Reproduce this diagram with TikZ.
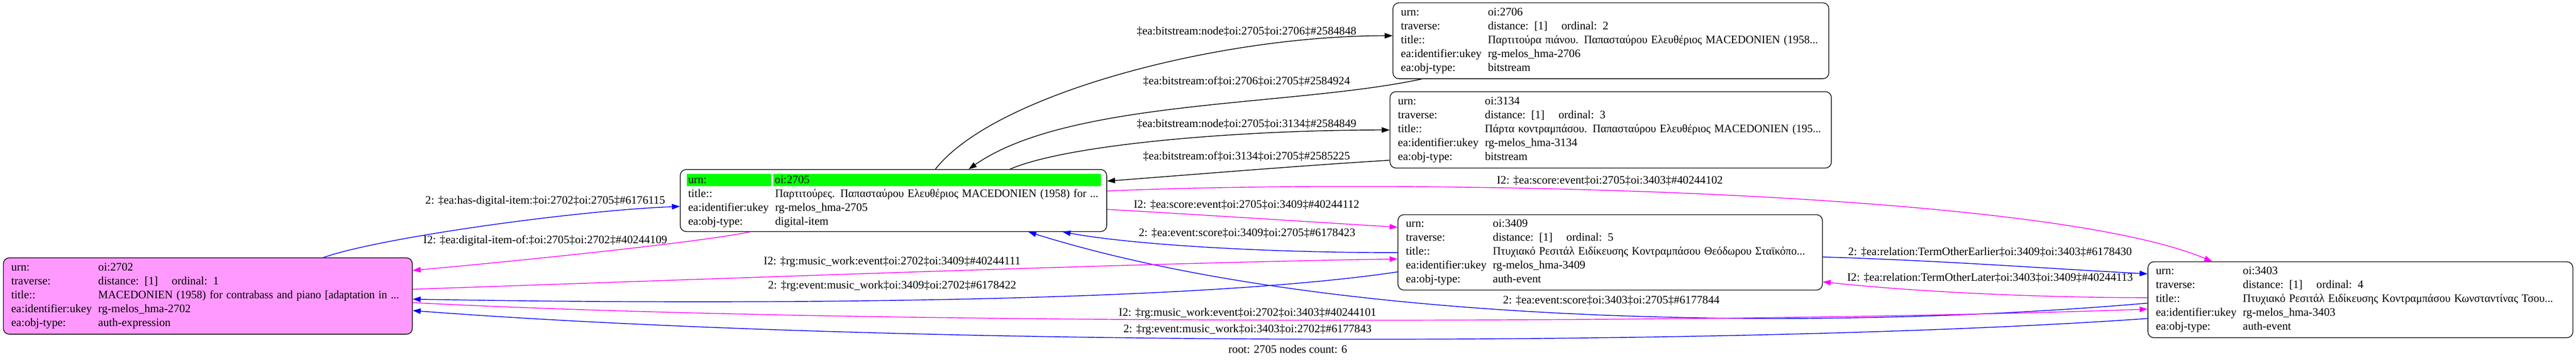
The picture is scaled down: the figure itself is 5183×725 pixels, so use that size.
\documentclass[tikz,border=0pt]{standalone}
\usepackage{fontspec}
\usepackage{graphicx}
\setmainfont{Liberation Serif}
\usetikzlibrary{arrows.meta}
\setlength{\parindent}{0pt}
\definecolor{recpink}{HTML}{FF99FF}
\definecolor{rootgreen}{HTML}{00FF00}
\definecolor{relblue}{HTML}{0000FF}
\definecolor{relpink}{HTML}{FF00FF}
\newcommand\fld[2]{\mbox{\makebox[175pt][l]{#1}#2}}
\newcommand\ttl[1]{\fld{title::}{\scalebox{0.97}[1]{#1}}}
\newcommand\trav[1]{\fld{traverse:}{\makebox[148pt][l]{distance: [1]}ordinal: #1}}
\newcommand\greencell[2]{{\fboxsep=0pt\colorbox{rootgreen}{\makebox[#1][l]{\rule[-5.5pt]{0pt}{25pt}\hspace{3pt}#2}}}}
\tikzset{
  rec/.style={draw,line width=1.4pt,rounded corners=12pt,anchor=north west,inner xsep=16pt,inner ysep=0pt,align=left},
  rel/.style={line width=1.5pt,-{Triangle[length=16pt,width=11pt]}},
  elabel/.style={inner sep=0pt}
}
\begin{document}
\begin{tikzpicture}[x=1pt,y=-1pt,font=\fontsize{23}{28}\selectfont]
\useasboundingbox (0,0) rectangle (5183,725);
\node[rec,fill=recpink,text width=791pt,minimum height=154pt] (n2702) at (6,519) {%
\fld{urn:}{oi:2702}\\
\trav{1}\\
\ttl{MACEDONIEN (1958) for contrabass and piano [adaptation in ...}\\
\fld{ea:identifier:ukey}{rg-melos\_hma-2702}\\
\fld{ea:obj-type:}{auth-expression}};
\node[rec,text width=826pt,minimum height=125pt] (n2705) at (1368,341) {%
\hspace*{-3pt}\greencell{170pt}{urn:}\hspace{4pt}\greencell{659pt}{oi:2705}\\
\ttl{Παρτιτούρες. Παπασταύρου Ελευθέριος MACEDONIEN (1958) for ...}\\
\fld{ea:identifier:ukey}{rg-melos\_hma-2705}\\
\fld{ea:obj-type:}{digital-item}};
\node[rec,text width=845pt,minimum height=153pt] (n2706) at (2802,5) {%
\fld{urn:}{oi:2706}\\
\trav{2}\\
\ttl{Παρτιτούρα πιάνου. Παπασταύρου Ελευθέριος MACEDONIEN (1958...}\\
\fld{ea:identifier:ukey}{rg-melos\_hma-2706}\\
\fld{ea:obj-type:}{bitstream}};
\node[rec,text width=856pt,minimum height=154pt] (n3134) at (2796,184) {%
\fld{urn:}{oi:3134}\\
\trav{3}\\
\ttl{Πάρτα κοντραμπάσου. Παπασταύρου Ελευθέριος MACEDONIEN (195...}\\
\fld{ea:identifier:ukey}{rg-melos\_hma-3134}\\
\fld{ea:obj-type:}{bitstream}};
\node[rec,text width=822pt,minimum height=152pt] (n3409) at (2812,432) {%
\fld{urn:}{oi:3409}\\
\trav{5}\\
\ttl{Πτυχιακό Ρεσιτάλ Ειδίκευσης Κοντραμπάσου Θεόδωρου Σταϊκόπο...}\\
\fld{ea:identifier:ukey}{rg-melos\_hma-3409}\\
\fld{ea:obj-type:}{auth-event}};
\node[rec,text width=823pt,minimum height=153pt] (n3403) at (4321,527) {%
\fld{urn:}{oi:3403}\\
\trav{4}\\
\ttl{Πτυχιακό Ρεσιτάλ Ειδίκευσης Κοντραμπάσου Κωνσταντίνας Τσου...}\\
\fld{ea:identifier:ukey}{rg-melos\_hma-3403}\\
\fld{ea:obj-type:}{auth-event}};
% bitstream links
\draw[rel](1882,0 |- n2705.north).. controls (2000,190) and (2450,72) ..(n2706.west |- 0,72);
\draw[rel](2860,0 |- n2706.south).. controls (2600,215) and (2150,200) ..(1949,0 |- n2705.north);
\draw[rel](2032,0 |- n2705.north).. controls (2150,290) and (2500,262) ..(n3134.west |- 0,262);
\draw[rel](n3134.west |- 0,323).. controls (2600,335) and (2400,352) ..(n2705.east |- 0,365);
% digital item
\draw[rel,relblue](651,0 |- n2702.north).. controls (760,480) and (1150,425) ..(n2705.west |- 0,416);
\draw[rel,relpink](1509,0 |- n2705.south).. controls (1400,490) and (1000,530) ..(n2702.east |- 0,545);
% score / event
\draw[rel,relpink](n2705.east |- 0,422).. controls (2450,435) and (2650,448) ..(n3409.west |- 0,458);
\draw[rel,relblue](n3409.west |- 0,509).. controls (2600,510) and (2300,497) ..(2138,0 |- n2705.south);
\draw[rel,relpink](n2705.east |- 0,385).. controls (2800,360) and (4100,380) ..(4451,0 |- n3403.north);
\draw[rel,relblue](n3403.west |- 0,611).. controls (3700,665) and (2700,665) ..(2069,0 |- n2705.south);
% relations
\draw[rel,relblue](n3409.east |- 0,518).. controls (3900,525) and (4100,540) ..(n3403.west |- 0,552);
\draw[rel,relpink](n3403.west |- 0,600).. controls (4100,600) and (3850,588) ..(n3409.east |- 0,568);
% music work
\draw[rel,relpink](n2702.east |- 0,583).. controls (1500,560) and (2300,530) ..(n3409.west |- 0,522);
\draw[rel,relblue](n3409.west |- 0,548).. controls (2400,610) and (1500,615) ..(n2702.east |- 0,603);
\draw[rel,relpink](n2702.east |- 0,610).. controls (1800,660) and (3600,650) ..(n3403.west |- 0,623);
\draw[rel,relblue](n3403.west |- 0,642).. controls (3500,700) and (1800,700) ..(n2702.east |- 0,626);
\foreach \lbl/\pos/\txt in {
  a/{2508,63}/{‡ea:bitstream:node‡oi:2705‡oi:2706‡\#2584848},
  b/{2508,164}/{‡ea:bitstream:of‡oi:2706‡oi:2705‡\#2584924},
  c/{2508,250}/{‡ea:bitstream:node‡oi:2705‡oi:3134‡\#2584849},
  d/{2508,315}/{‡ea:bitstream:of‡oi:3134‡oi:2705‡\#2585225},
  e/{1097,406}/{2: ‡ea:has-digital-item:‡oi:2702‡oi:2705‡\#6176115},
  f/{1097,485}/{I2: ‡ea:digital-item-of:‡oi:2705‡oi:2702‡\#40244109},
  g/{2508,413}/{I2: ‡ea:score:event‡oi:2705‡oi:3409‡\#40244112},
  h/{2509,470}/{2: ‡ea:event:score‡oi:3409‡oi:2705‡\#6178423},
  i/{3239,364}/{I2: ‡ea:score:event‡oi:2705‡oi:3403‡\#40244102},
  j/{4004,508}/{2: ‡ea:relation:TermOtherEarlier‡oi:3409‡oi:3403‡\#6178430},
  k/{4004,560}/{I2: ‡ea:relation:TermOtherLater‡oi:3403‡oi:3409‡\#40244113},
  l/{3242,605}/{2: ‡ea:event:score‡oi:3403‡oi:2705‡\#6177844},
  m/{1795,528}/{I2: ‡rg:music\_work:event‡oi:2702‡oi:3409‡\#40244111},
  n/{1795,577}/{2: ‡rg:event:music\_work‡oi:3409‡oi:2702‡\#6178422},
  o/{2510,632}/{I2: ‡rg:music\_work:event‡oi:2702‡oi:3403‡\#40244101},
  p/{2510,665}/{2: ‡rg:event:music\_work‡oi:3403‡oi:2702‡\#6177843}}
  \node[elabel](lbl\lbl) at (\pos) {\txt};
\node[elabel](footer) at (2591,704) {root: 2705 nodes count: 6};
\end{tikzpicture}
\end{document}
